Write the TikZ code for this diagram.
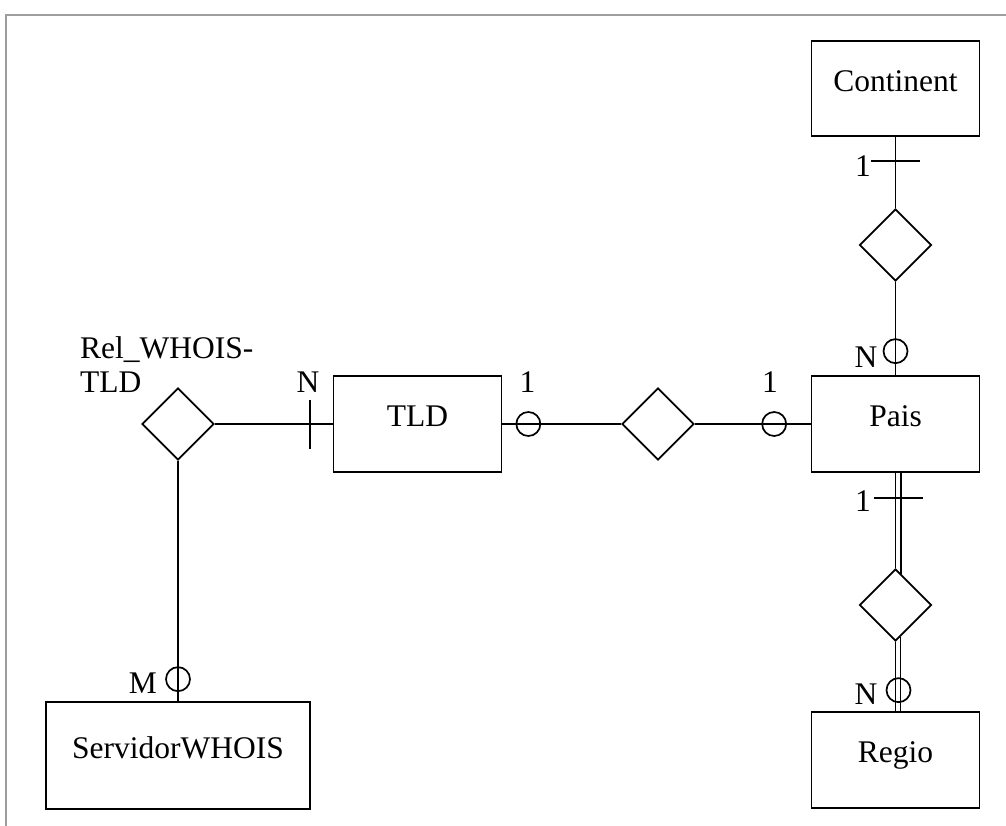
\documentclass[tikz,border=0pt]{standalone}
\usepackage{fontspec}
\setmainfont{Liberation Serif}
\usetikzlibrary{shapes.geometric}
\begin{document}
\begin{tikzpicture}[x=1pt,y=-1pt,
  every node/.style={font=\fontsize{31.5}{34}\selectfont},
  entity/.style={draw, line width=1.7pt, rectangle, inner sep=0pt,
    minimum width=168pt, minimum height=96pt,
    text height=0.75em, text depth=0.2em},
  rel/.style={draw, line width=1.7pt, diamond, inner sep=0pt,
    minimum width=72pt, minimum height=72pt},
  link/.style={line width=1.7pt},
  card/.style={inner sep=0pt},
  optmark/.style={draw, circle, line width=1.7pt, inner sep=0pt, minimum size=24pt},
  frame/.style={draw=black!38, line width=2.5pt}]
\useasboundingbox (0,0) rectangle (1006,826);
\draw[frame] (6,826) -- (6,15) -- (1006,15);

% entities
\node[entity, minimum height=95pt] (cont) at (895.5,88.5) {Continent};
\node[entity] (pais) at (895.5,424) {Pais};
\node[entity] (regio) at (895.5,760) {Regio};
\node[entity] (tld) at (417.5,424) {TLD};
\node[entity, minimum width=264pt, minimum height=107pt] (serv) at (178,755.5) {ServidorWHOIS};

% relationships
\node[rel] (rc) at (895.5,245) {};
\node[rel] (rr) at (895.5,605) {};
\node[rel] (rt) at (658,424) {};
\node[rel] (rw) at (178,424) {};
\node[card, anchor=north west, align=left] (rwlabel) at (80,336.5) {Rel\_WHOIS-\\TLD};

% connectors
\draw[link] (cont) -- (rc);
\draw[link] (rc) -- (pais);
\draw[link] (pais) -- (rr);
\draw[link] ([xshift=5.5pt]pais.south) -- ([shift={(5.5,5.5)}]rr.north);
\draw[link] (rr) -- (regio);
\draw[link] ([shift={(5,-5)}]rr.south) -- ([xshift=5pt]regio.north);
\draw[link] (tld) -- (rt);
\draw[link] (rt) -- (pais);
\draw[link] (rw) -- (tld);
\draw[link] (rw) -- (serv);

% cardinality marks
\draw[link] ([shift={(-24.5,24)}]cont.south) -- ([shift={(24.5,24)}]cont.south);
\draw[link] ([shift={(-22,25)}]pais.south) -- ([shift={(27,25)}]pais.south);
\draw[link] ([shift={(-23,-24.5)}]tld.west) -- ([shift={(-23,24.5)}]tld.west);
\node[optmark] (o1) at ([shift={(0,-24)}]pais.north) {};
\node[optmark] (o2) at ([shift={(3,-21)}]regio.north) {};
\node[optmark] (o3) at ([shift={(0,-22)}]serv.north) {};
\node[optmark] (o4) at ([shift={(26,0)}]tld.east) {};
\node[optmark] (o5) at ([shift={(-36.5,0)}]pais.west) {};

% cardinality labels
\node[card] (c1) at (863,166) {1};
\node[card] (c2) at (866,357) {N};
\node[card] (c3) at (863,501) {1};
\node[card] (c4) at (866,694) {N};
\node[card] (c5) at (143,683) {M};
\node[card] (c6) at (308,382) {N};
\node[card] (c7) at (527.5,382.5) {1};
\node[card] (c8) at (770,382.5) {1};
\end{tikzpicture}
\end{document}
